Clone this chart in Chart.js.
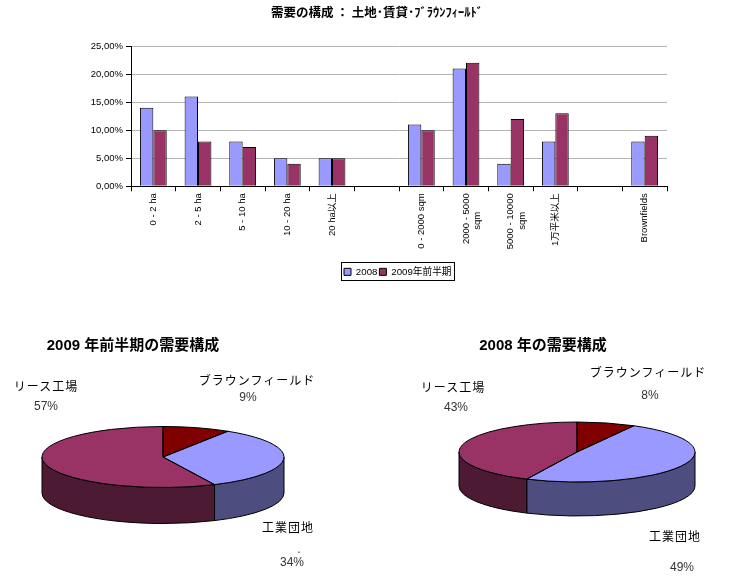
<!DOCTYPE html>
<html lang="ja">
<head>
<meta charset="utf-8">
<title>需要の構成</title>
<script src="https://cdn.jsdelivr.net/npm/chart.js@4"></script>
<style>
html, body { margin: 0; padding: 0; background: #fff; }
body { position: relative; width: 745px; height: 583px; overflow: hidden; font-family: "Liberation Sans", "Noto Sans CJK JP", sans-serif; }
canvas { position: absolute; }
.lbl { position: absolute; transform: translate(-50%, -50%); white-space: nowrap; color: #000; font-size: 12px; letter-spacing: 1px; }
.pct { color: #333; letter-spacing: 0; }
.ttl { position: absolute; transform: translate(-50%, -50%); white-space: nowrap; color: #000; font-size: 15px; font-weight: bold; }
</style>
</head>
<body>
<canvas id="barChart" width="745" height="300" style="left:0;top:0"></canvas>
<canvas id="pie2009" width="246" height="246" style="left:40px;top:334px"></canvas>
<canvas id="pie2008" width="240" height="240" style="left:457px;top:332px"></canvas>
<div id="notes"></div>
<script>
const barTitle = "需要の構成 ： 土地･賃貸･ﾌﾞﾗｳﾝﾌｨｰﾙﾄﾞ";
const barCategories = ["0 - 2 ha", "2 - 5 ha", "5 - 10 ha", "10 - 20 ha", "20 ha以上", "",
    "0 - 2000 sqm", ["2000 - 5000", "sqm"], ["5000 - 10000", "sqm"], "1万平米以上", "", "Brownfields"];
const seriesNames = ["2008", "2009年前半期"];
const values2008 = [14, 16, 8, 5, 5, null, 11, 21, 4, 8, null, 8];
const values2009 = [10, 8, 7, 4, 5, null, 10, 22, 12, 13, null, 9];

const pieNames = ["ブラウンフィールド", "工業団地", "リース工場"];
const pie2009 = [9, 34, 57];
const pie2008 = [8, 49, 43];
const pieColors = ["#800000", "#9999FF", "#993366"];
const wallColors = ["#400000", "#4D4D80", "#4D1A33"];

// moves title and legend to where the reference has them, draws the legend frame
const barBoxes = {
    id: "barBoxes",
    afterLayout(chart) {
        const lg = chart.legend;
        lg.left = 342; lg.right = 500; lg.top = 265; lg.bottom = 281;
        chart.titleBlock.left = 0; chart.titleBlock.right = 754;
    },
    afterDraw(chart) {
        const c = chart.ctx;
        c.save();
        c.strokeStyle = "#000";
        c.lineWidth = 1;
        c.strokeRect(341.5, 262.5, 113, 18);
        c.restore();
    }
};

new Chart(document.getElementById("barChart"), {
    type: "bar",
    plugins: [barBoxes],
    data: {
        labels: barCategories,
        datasets: [
            { label: seriesNames[0], data: values2008, backgroundColor: "#9999FF", borderColor: "#000", borderWidth: 1 },
            { label: seriesNames[1], data: values2009, backgroundColor: "#993366", borderColor: "#000", borderWidth: 1 }
        ]
    },
    options: {
        responsive: false,
        animation: false,
        layout: { padding: { right: 78 } },
        categoryPercentage: 0.6,
        barPercentage: 1,
        plugins: {
            tooltip: { enabled: false },
            title: {
                display: true,
                text: barTitle,
                color: "#000",
                font: { family: "'Noto Sans CJK JP'", size: 12.5, weight: "bold" },
                padding: { top: 5, bottom: 26 }
            },
            legend: {
                position: "bottom",
                align: "start",
                labels: {
                    boxWidth: 7, boxHeight: 7, padding: 2, color: "#000",
                    font: { family: "'Liberation Sans', 'Noto Sans CJK JP'", size: 9.7 }
                }
            }
        },
        scales: {
            x: {
                afterFit(s) { s.height = 92; },
                grid: { display: true, drawOnChartArea: false, offset: true, tickColor: "#000", tickLength: 5 },
                border: { color: "#000" },
                ticks: {
                    autoSkip: false, minRotation: 90, maxRotation: 90, padding: 2, color: "#000",
                    font: { family: "'Liberation Sans', 'Noto Sans CJK JP'", size: 9.5 },
                    callback(v) {
                        const l = this.getLabelForValue(v);
                        return Array.isArray(l) ? [l[0], l[1] + "\u00a0".repeat(7)] : l;
                    }
                }
            },
            y: {
                min: 0, max: 25,
                afterFit(s) { s.width = 131; },
                grid: { color: "#B4B4B4", tickColor: "#000", tickLength: 5 },
                border: { color: "#000" },
                ticks: {
                    stepSize: 5, padding: 3, color: "#000",
                    font: { family: "'Liberation Sans'", size: 9.5 },
                    callback: v => v.toFixed(2).replace(".", ",") + "%"
                }
            }
        }
    }
});

// tilted pie: side wall first, then the library's arcs squashed, then the outlines
const tilted = (squash, depth) => ({
    id: "tilted",
    beforeDatasetsDraw(chart) {
        const c = chart.ctx;
        c.save();
        c.strokeStyle = "#000";
        c.lineWidth = 1;
        chart.getDatasetMeta(0).data.forEach((a, i) => {
            const s = Math.max(a.startAngle, 0);
            const e = Math.min(a.endAngle, Math.PI);
            if (e <= s) return;
            const rx = a.outerRadius, ry = rx * squash;
            c.beginPath();
            c.ellipse(a.x, a.y, rx, ry, 0, s, e);
            c.ellipse(a.x, a.y + depth, rx, ry, 0, e, s, true);
            c.closePath();
            c.fillStyle = wallColors[i];
            c.fill();
            c.stroke();
        });
        c.restore();
        const a0 = chart.getDatasetMeta(0).data[0];
        c.save();
        c.translate(a0.x, a0.y);
        c.scale(1, squash);
        c.translate(-a0.x, -a0.y);
    },
    afterDatasetsDraw(chart) {
        const c = chart.ctx;
        c.restore();
        c.save();
        c.strokeStyle = "#000";
        c.lineWidth = 1;
        chart.getDatasetMeta(0).data.forEach(a => {
            const rx = a.outerRadius, ry = rx * squash;
            c.beginPath();
            c.moveTo(a.x, a.y);
            c.ellipse(a.x, a.y, rx, ry, 0, a.startAngle, a.endAngle);
            c.closePath();
            c.stroke();
        });
        c.restore();
    }
});

const drawPie = (id, values, squash, depth) => new Chart(document.getElementById(id), {
    type: "pie",
    plugins: [tilted(squash, depth)],
    data: {
        labels: pieNames,
        datasets: [{ data: values, backgroundColor: pieColors, borderWidth: 0 }]
    },
    options: {
        responsive: false,
        animation: false,
        layout: { padding: 2 },
        plugins: { legend: { display: false }, tooltip: { enabled: false } }
    }
});
drawPie("pie2009", pie2009, 0.252, 36);
drawPie("pie2008", pie2008, 0.254, 34);

// text around the pies
const notes = document.getElementById("notes");
const put = (cls, text, x, y) => {
    const d = document.createElement("div");
    d.className = cls;
    d.textContent = text;
    d.style.left = x + "px";
    d.style.top = y + "px";
    notes.appendChild(d);
};
put("ttl", "2009 年前半期の需要構成", 133, 343);
put("ttl", "2008 年の需要構成", 543, 343);
put("lbl", pieNames[0], 257, 379);
put("lbl pct", pie2009[0] + "%", 248, 397);
put("lbl", pieNames[2], 46, 385);
put("lbl pct", pie2009[2] + "%", 46, 406);
put("lbl", pieNames[1], 288, 526);
put("lbl pct", ".", 299, 549);
put("lbl pct", pie2009[1] + "%", 292, 562);
put("lbl", pieNames[0], 648, 371);
put("lbl pct", pie2008[0] + "%", 650, 395);
put("lbl", pieNames[2], 453, 386);
put("lbl pct", pie2008[2] + "%", 456, 407);
put("lbl", pieNames[1], 675, 535);
put("lbl pct", pie2008[1] + "%", 682, 567);
</script>
</body>
</html>
